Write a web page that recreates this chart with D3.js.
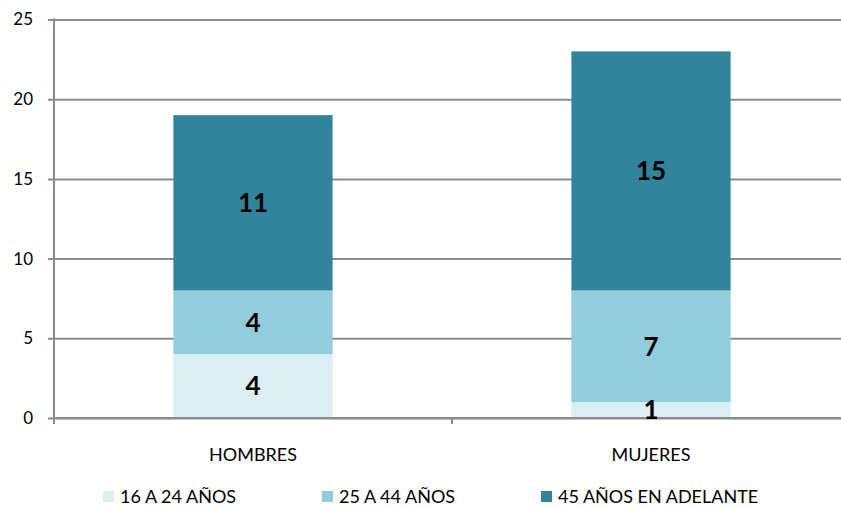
<!DOCTYPE html>
<html><head><meta charset="utf-8">
<script src="https://cdn.jsdelivr.net/npm/d3@7"></script>
<style>body{margin:0;background:#fff;} svg{display:block;font-family:Lato,"Noto Sans",sans-serif;}</style>
</head><body>
<svg id="c" width="841" height="509"></svg>
<script>
const categories = ["HOMBRES", "MUJERES"];
const seriesNames = ["16 A 24 AÑOS", "25 A 44 AÑOS", "45 AÑOS EN ADELANTE"];
const s16a24 = [4, 1];
const s25a44 = [4, 7];
const s45mas = [11, 15];
const yTicks = [0, 5, 10, 15, 20, 25];
const colors = ["#DAEEF3", "#92CDDC", "#31849B"];

(function () {
const svg = d3.select("#c");
const mLeft = 54, mRight = 850, mTop = 19.5, mBottom = 418;
const x = d3.scaleBand().domain(categories).range([mLeft, mRight]).paddingInner(0).paddingOuter(0);
const y = d3.scaleLinear().domain([0, 25]).range([mBottom, mTop]);

const rows = categories.map((c, i) => ({cat: c, a: s16a24[i], b: s25a44[i], c: s45mas[i]}));
const stack = d3.stack().keys(["a", "b", "c"])(rows);

// gridlines
const yAxis = d3.axisLeft(y).tickValues(yTicks).tickSize(-(mRight - mLeft)).tickPadding(21);
const gy = svg.append("g").attr("transform", `translate(${mLeft},0)`).call(yAxis);
gy.select(".domain").remove();
gy.selectAll(".tick line").attr("stroke", "#8c8c8c").attr("stroke-width", 2).attr("x1", -6);
gy.selectAll(".tick text").attr("font-size", 17).attr("fill", "#000").attr("font-family", "Lato, 'Noto Sans', sans-serif");

// bars
const bw = x.bandwidth() * 0.4;
stack.forEach((layer, li) => {
  svg.append("g").selectAll("rect").data(layer).enter().append("rect")
    .attr("x", d => x(d.data.cat) + (x.bandwidth() - bw) / 2)
    .attr("width", bw)
    .attr("y", d => y(d[1]))
    .attr("height", d => y(d[0]) - y(d[1]))
    .attr("fill", colors[li]);
});

// y axis line
svg.append("line").attr("x1", mLeft).attr("x2", mLeft).attr("y1", mTop - 1).attr("y2", mBottom + 6)
  .attr("stroke", "#8c8c8c").attr("stroke-width", 2);

// x axis
const gx = svg.append("g").attr("transform", `translate(0,${mBottom})`)
  .call(d3.axisBottom(x).tickSize(0).tickPadding(30));
gx.select(".domain").remove();
gx.selectAll(".tick text").attr("font-size", 18).attr("fill", "#000").attr("font-family", "Lato, 'Noto Sans', sans-serif");
svg.append("line").attr("x1", mLeft).attr("x2", 841).attr("y1", mBottom).attr("y2", mBottom)
  .attr("stroke", "#8c8c8c").attr("stroke-width", 2);
categories.slice(1).forEach(c => {
  svg.append("line").attr("x1", x(c)).attr("x2", x(c)).attr("y1", mBottom).attr("y2", mBottom + 6)
    .attr("stroke", "#8c8c8c").attr("stroke-width", 2);
});

// labels
stack.forEach(layer => {
  svg.append("g").selectAll("text").data(layer).enter().append("text")
    .attr("x", d => x(d.data.cat) + x.bandwidth() / 2)
    .attr("y", d => y((d[0] + d[1]) / 2))
    .attr("dy", "0.36em")
    .attr("text-anchor", "middle")
    .attr("font-size", 26).attr("font-weight", "bold").attr("fill", "#000")
    .text(d => d[1] - d[0]);
});

// legend
const legX = [103, 322, 541];
seriesNames.forEach((n, i) => {
  const g = svg.append("g").attr("transform", `translate(${legX[i]},491)`);
  g.append("rect").attr("width", 11).attr("height", 11).attr("fill", colors[i]);
  g.append("text").attr("x", 17).attr("y", 6).attr("dy", "0.36em").attr("font-size", 18).attr("fill", "#000").text(n);
});
})();
</script>
</body></html>
